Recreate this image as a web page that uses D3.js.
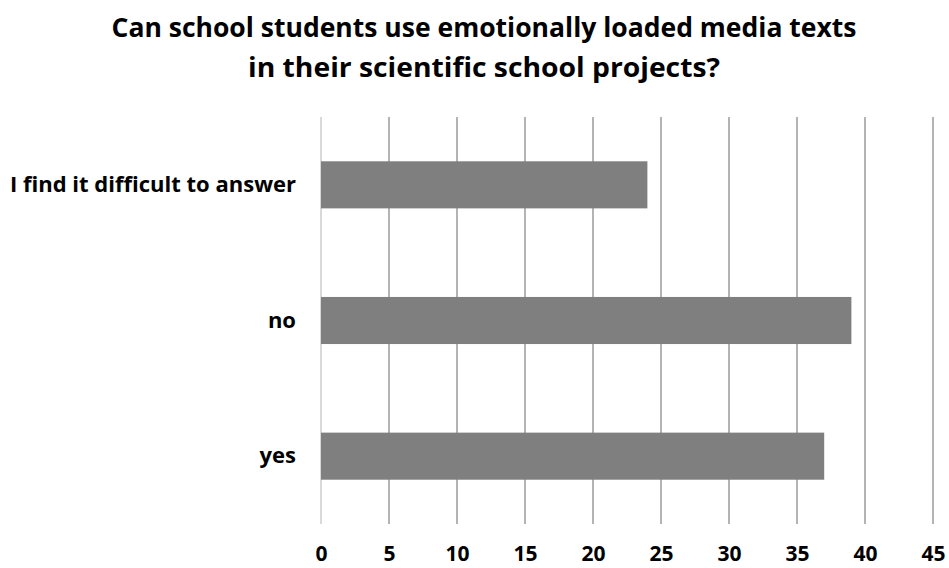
<!DOCTYPE html>
<html><head><meta charset="utf-8">
<script src="https://cdn.jsdelivr.net/npm/d3@7"></script>
<style>body{margin:0;background:#fff}svg{display:block}</style>
</head><body>
<svg id="c" width="949" height="568"></svg>
<script>
const categories = ["I find it difficult to answer", "no", "yes"];
const values = [24, 39, 37];
const tickValues = [0, 5, 10, 15, 20, 25, 30, 35, 40, 45];
const titleLines = ["Can school students use emotionally loaded media texts", "in their scientific school projects?"];

const FONT = "'Open Sans', 'Liberation Sans', sans-serif";
const svg = d3.select("#c");
const x = d3.scaleLinear().domain([0, 45]).range([321, 933]);
const y = d3.scaleBand().domain(categories).range([117, 524]).paddingInner(0.653).paddingOuter(0.3265);

// gridlines
svg.append("g").selectAll("line").data(tickValues).join("line")
  .attr("x1", d => x(d)).attr("x2", d => x(d))
  .attr("y1", 117).attr("y2", 524)
  .attr("stroke", d => d === 0 ? "#d9d9d9" : "#b3b3b3")
  .attr("stroke-width", 2);

// bars
svg.append("g").selectAll("rect").data(categories).join("rect")
  .attr("x", x(0)).attr("y", c => y(c))
  .attr("width", (c, i) => x(values[i]) - x(0))
  .attr("height", y.bandwidth())
  .attr("fill", "#7f7f7f");

// x axis labels
const xAxis = d3.axisBottom(x).tickValues(tickValues).tickSize(0).tickPadding(0);
const gx = svg.append("g").attr("transform", "translate(0,561)").call(xAxis);
gx.select(".domain").remove();
gx.selectAll("text").attr("font-family", FONT).attr("font-weight", "bold")
  .attr("font-size", 21).attr("fill", "#000").attr("dy", "0");

// y axis labels
const yAxis = d3.axisLeft(y).tickSize(0).tickPadding(0);
const gy = svg.append("g").attr("transform", "translate(296,0)").call(yAxis);
gy.select(".domain").remove();
gy.selectAll("text").attr("font-family", FONT).attr("font-weight", "bold")
  .attr("font-size", 22).attr("fill", "#000")
  .each(function(d) {
    if (d === categories[0]) {
      d3.select(this).attr("textLength", 286).attr("lengthAdjust", "spacingAndGlyphs");
    }
  });

// title
const tw = [745, 472];
svg.append("g").selectAll("text").data(titleLines).join("text")
  .attr("x", 484).attr("y", (d, i) => 37 + i * 40)
  .attr("text-anchor", "middle")
  .attr("font-family", FONT).attr("font-weight", "bold").attr("font-size", 26)
  .attr("textLength", (d, i) => tw[i]).attr("lengthAdjust", "spacingAndGlyphs")
  .attr("fill", "#000").text(d => d);
</script>
</body></html>
